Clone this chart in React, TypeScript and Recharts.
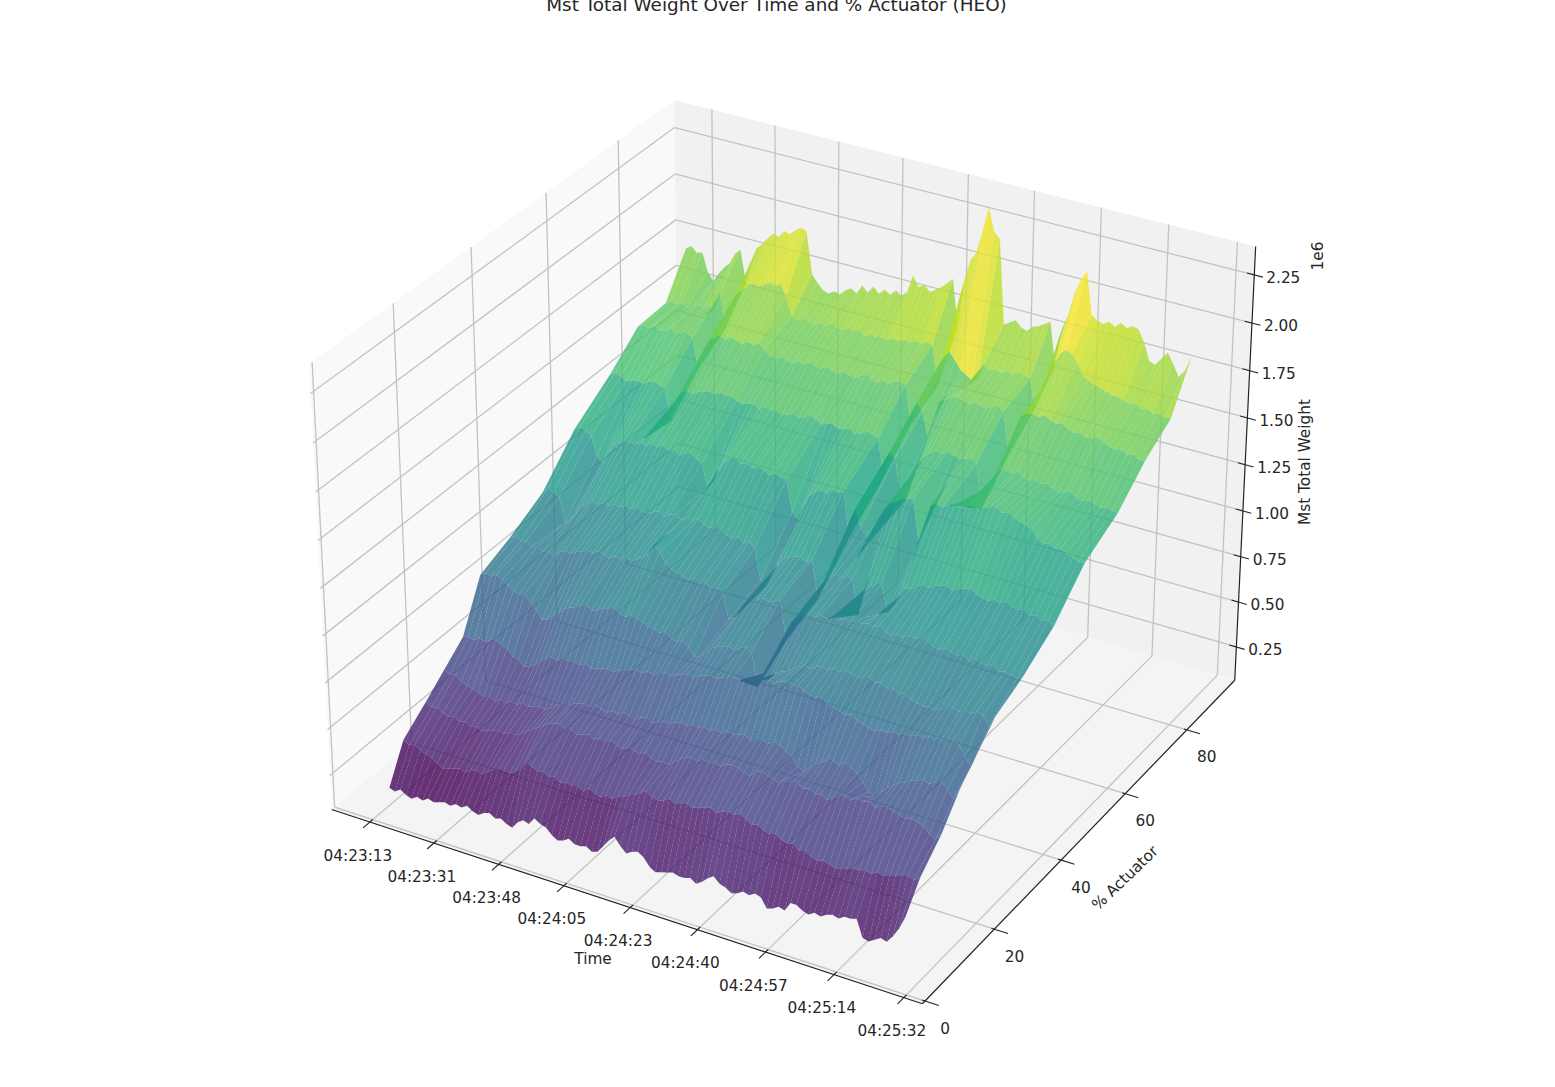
import { ScatterChart, Scatter, XAxis, YAxis } from 'recharts';

const WIDTH = 1555;
const HEIGHT = 1087;

const timeTickLabels = ['04:23:13', '04:23:31', '04:23:48', '04:24:05', '04:24:23', '04:24:40', '04:24:57', '04:25:14', '04:25:32'];
const timeTickSeconds = [0, 17.4, 34.8, 52.1, 69.5, 86.9, 104.3, 121.6, 139];
const actuatorTicks = [0, 20, 40, 60, 80];
const weightTicks = [25, 50, 75, 100, 125, 150, 175, 200, 225]; // units of 1e4

// seconds after 04:23:13
const sampleSeconds = [
  5, 6.5, 8, 9.5, 11, 12.5, 14, 15.5, 17, 18.5, 20, 21.5, 23, 24.5, 26, 27.5, 29, 30.5, 32, 33.5,
  35, 36.5, 38, 39.5, 41, 42.5, 44, 45.5, 47, 48.5, 50, 51.5, 53, 54.5, 56, 57.5, 59, 60.5, 62, 63.5,
  65, 66.5, 68, 69.5, 71, 72.5, 74, 75.5, 77, 78.5, 80, 81.5, 83, 84.5, 86, 87.5, 89, 90.5, 92, 93.5,
  95, 96.5, 98, 99.5, 101, 102.5, 104, 105.5, 107, 108.5, 110, 111.5, 113, 114.5, 116, 117.5, 119, 120.5, 122, 123.5,
  125, 126.5, 128, 129.5, 131, 132.5, 134, 135.5, 137, 138.5,
];
const actuatorLevels = [0, 4, 10, 15, 20, 25, 33, 42, 51, 61, 69, 77, 83];

// Mst Total Weight per actuator level, units of 1e4
const weightAt0 = [
  27, 26, 28, 26, 25, 27, 26, 28, 27, 28, 29, 28, 30, 29, 31, 29, 28, 30, 31, 29,
  30, 28, 27, 31, 33, 32, 36, 34, 33, 30, 28, 29, 31, 29, 29, 30, 28, 29, 33, 37,
  40, 36, 33, 35, 36, 34, 30, 28, 29, 30, 31, 30, 30, 31, 29, 31, 34, 36, 33, 32,
  30, 31, 33, 32, 34, 33, 28, 29, 31, 30, 35, 35, 33, 32, 34, 33, 35, 36, 35, 37,
  37, 38, 29, 28, 30, 32, 31, 35, 40, 47,
];
const weightAt4 = [
  46, 44, 45, 43, 42, 41, 39, 37, 38, 39, 40, 39, 41, 42, 41, 43, 45, 46, 47, 46,
  48, 50, 55, 54, 52, 53, 51, 52, 50, 51, 50, 51, 49, 52, 50, 49, 51, 50, 52, 53,
  55, 56, 58, 60, 58, 57, 58, 60, 58, 59, 60, 59, 60, 61, 62, 60, 62, 63, 62, 64,
  62, 60, 61, 59, 58, 59, 57, 56, 57, 54, 55, 53, 52, 53, 52, 51, 52, 53, 54, 54,
  55, 54, 56, 55, 56, 57, 58, 59, 58, 60,
];
const weightAt10 = [
  56, 54, 55, 53, 52, 53, 51, 52, 50, 51, 50, 51, 52, 53, 52, 54, 53, 55, 57, 59,
  61, 63, 65, 66, 67, 65, 66, 64, 65, 66, 64, 66, 65, 67, 65, 64, 66, 65, 64, 66,
  64, 63, 64, 63, 66, 68, 70, 71, 70, 72, 71, 72, 71, 73, 74, 73, 72, 71, 74, 75,
  74, 73, 72, 75, 74, 75, 73, 74, 72, 73, 71, 73, 75, 76, 75, 77, 76, 77, 75, 76,
  77, 76, 75, 74, 75, 74, 73, 70, 68, 72,
];
const weightAt15 = [
  65, 63, 64, 61, 60, 59, 58, 57, 58, 56, 58, 57, 59, 58, 60, 59, 60, 61, 60, 62,
  64, 66, 65, 68, 69, 70, 69, 71, 70, 69, 71, 70, 72, 71, 70, 72, 73, 71, 72, 74,
  73, 75, 76, 75, 77, 76, 78, 76, 78, 77, 79, 78, 79, 80, 78, 79, 80, 79, 81, 80,
  78, 76, 72, 70, 73, 76, 78, 80, 81, 79, 82, 80, 78, 74, 70, 69, 72, 75, 77, 80,
  81, 83, 84, 85, 84, 86, 87, 84, 80, 86,
];
const weightAt20 = [
  74, 75, 74, 76, 75, 77, 78, 76, 75, 72, 71, 68, 69, 71, 74, 76, 78, 77, 79, 78,
  79, 78, 80, 78, 79, 80, 81, 80, 82, 83, 84, 85, 84, 86, 85, 87, 88, 87, 89, 90,
  91, 90, 92, 93, 94, 93, 95, 96, 97, 96, 98, 97, 99, 100, 101, 100, 102, 103, 102, 103,
  101, 100, 99, 101, 98, 97, 96, 95, 96, 94, 93, 92, 91, 93, 92, 94, 93, 95, 94, 96,
  95, 97, 96, 97, 98, 99, 97, 92, 88, 96,
];
const weightAt25 = [
  99, 101, 100, 102, 100, 98, 96, 95, 96, 92, 89, 85, 86, 89, 91, 94, 96, 97, 99, 100,
  98, 99, 101, 102, 103, 101, 100, 102, 101, 100, 99, 98, 97, 99, 96, 95, 97, 94, 90, 91,
  94, 97, 99, 100, 101, 100, 102, 103, 101, 84, 92, 90, 94, 96, 97, 99, 101, 103, 102, 104,
  105, 104, 106, 105, 107, 106, 105, 106, 107, 105, 106, 104, 105, 103, 104, 102, 101, 100, 101, 100,
  102, 103, 104, 103, 105, 104, 106, 105, 100, 106,
];
const weightAt33 = [
  106, 108, 106, 107, 105, 106, 104, 105, 103, 106, 108, 107, 109, 110, 112, 111, 113, 112, 111, 113,
  112, 114, 113, 115, 117, 120, 125, 122, 117, 115, 114, 113, 112, 114, 112, 113, 111, 112, 110, 97,
  99, 104, 109, 111, 112, 114, 113, 114, 116, 95, 106, 109, 111, 113, 112, 114, 113, 115, 114, 116,
  115, 117, 116, 117, 116, 118, 115, 114, 116, 115, 117, 116, 118, 117, 115, 114, 116, 115, 114, 115,
  113, 115, 114, 113, 115, 112, 113, 112, 111, 113,
];
const weightAt42 = [
  116, 119, 118, 116, 103, 106, 110, 114, 116, 119, 118, 120, 119, 121, 120, 122, 121, 123, 122, 121,
  123, 124, 122, 124, 125, 123, 125, 124, 126, 124, 123, 125, 124, 122, 121, 123, 120, 122, 119, 103,
  101, 108, 114, 118, 120, 121, 122, 120, 122, 102, 112, 115, 118, 117, 119, 118, 100, 114, 117, 119,
  120, 106, 110, 116, 121, 122, 124, 126, 125, 127, 128, 129, 127, 129, 130, 131, 129, 128, 127, 129,
  128, 130, 128, 127, 128, 126, 127, 125, 126, 124,
];
const weightAt51 = [
  136, 138, 137, 135, 125, 122, 128, 132, 135, 137, 138, 137, 139, 138, 140, 139, 141, 139, 140, 138,
  140, 141, 139, 137, 125, 129, 136, 141, 144, 145, 143, 144, 142, 144, 143, 141, 143, 142, 141, 125,
  122, 130, 136, 139, 141, 140, 143, 142, 144, 120, 136, 127, 124, 123, 134, 140, 144, 146, 148, 149,
  150, 128, 136, 149, 151, 150, 152, 153, 152, 154, 155, 154, 156, 157, 158, 156, 157, 155, 154, 153,
  152, 148, 146, 147, 145, 146, 144, 143, 142, 142,
];
const weightAt61 = [
  150, 152, 151, 149, 150, 151, 150, 152, 153, 152, 151, 134, 146, 151, 153, 152, 154, 155, 156, 155,
  157, 156, 157, 155, 154, 155, 156, 154, 156, 155, 156, 154, 155, 157, 155, 156, 158, 157, 155, 156,
  157, 155, 156, 157, 155, 156, 158, 157, 156, 136, 150, 148, 130, 128, 140, 147, 153, 156, 158, 157,
  159, 158, 157, 158, 159, 157, 134, 146, 152, 157, 158, 157, 159, 157, 156, 157, 156, 157, 155, 154,
  155, 156, 154, 153, 154, 153, 152, 153, 152, 152,
];
const weightAt69 = [
  164, 166, 165, 167, 165, 166, 168, 166, 167, 168, 166, 150, 160, 167, 169, 171, 170, 172, 171, 170,
  172, 171, 173, 170, 168, 167, 169, 168, 167, 169, 168, 170, 169, 168, 170, 169, 168, 170, 169, 168,
  170, 172, 170, 169, 171, 170, 172, 173, 172, 152, 164, 160, 148, 158, 168, 170, 172, 173, 172, 171,
  173, 172, 171, 173, 174, 172, 150, 160, 172, 174, 175, 174, 176, 174, 173, 174, 172, 171, 172, 170,
  171, 172, 170, 169, 168, 169, 167, 168, 166, 166,
];
const weightAt77 = [
  165, 167, 166, 168, 166, 167, 169, 168, 170, 169, 178, 160, 172, 180, 183, 186, 188, 187, 189, 191,
  190, 192, 186, 176, 175, 177, 176, 175, 177, 176, 178, 177, 176, 178, 177, 179, 176, 178, 177, 178,
  177, 179, 178, 180, 179, 181, 180, 182, 181, 160, 176, 180, 176, 172, 170, 168, 170, 178, 176, 177,
  176, 178, 177, 179, 178, 177, 162, 170, 178, 188, 194, 197, 196, 192, 186, 184, 183, 182, 181, 180,
  180, 179, 178, 179, 177, 178, 176, 177, 176, 176,
];
const weightAt83 = [
  186, 188, 185, 186, 176, 172, 177, 181, 184, 190, 193, 176, 188, 196, 199, 203, 206, 205, 209, 208,
  211, 213, 212, 190, 186, 183, 182, 184, 183, 186, 188, 186, 191, 188, 192, 189, 192, 190, 193, 191,
  194, 203, 198, 200, 197, 199, 201, 204, 207, 182, 208, 219, 224, 236, 249, 237, 234, 190, 192, 194,
  191, 190, 193, 194, 196, 198, 176, 196, 204, 216, 224, 229, 207, 205, 204, 206, 204, 207, 205, 207,
  206, 200, 191, 190, 194, 198, 193, 187, 191, 199,
];
const weightRows = [
  weightAt0, weightAt4, weightAt10, weightAt15, weightAt20, weightAt25, weightAt33,
  weightAt42, weightAt51, weightAt61, weightAt69, weightAt77, weightAt83,
];

// axis limits of the 3d box
const TIME_MIN = -10.5;
const TIME_MAX = 143.6;
const ACT_MIN = -0.736;
const ACT_MAX = 96.07;
const WEIGHT_MIN = 6.35;
const WEIGHT_MAX = 239.7;

const fx = (t: number) => (t - TIME_MIN) / (TIME_MAX - TIME_MIN);
const fy = (a: number) => (a - ACT_MIN) / (ACT_MAX - ACT_MIN);
const fz = (w: number) => (w - WEIGHT_MIN) / (WEIGHT_MAX - WEIGHT_MIN);

// same camera as a matplotlib 3d axes, elev 30 azim -60 dist 10
function project(bx: number, by: number, bz: number) {
  const dx = (bx - 0.5) * 1.2549;
  const dy = (by - 0.5) * 1.2549;
  const dz = (bz - 0.5) * 0.9412;
  const xv = 0.866 * dx + 0.5 * dy;
  const yv = -0.25 * dx + 0.433 * dy + 0.866 * dz;
  const nv = 0.433 * dx - 0.75 * dy + 0.5 * dz;
  const w = 10 - nv;
  return { x: 792 + (5390 * xv) / w, y: 529 - (5390 * yv) / w, depth: w };
}

const viridis = ['#440154', '#482475', '#414487', '#355f8d', '#2a788e', '#21918c', '#22a884', '#44bf70', '#7ad151', '#bddf26', '#fde725'];
function viridisAt(v: number) {
  const p = Math.min(Math.max(v, 0), 1) * 10;
  const i = Math.min(Math.floor(p), 9);
  const f = p - i;
  const c = (hex: string, k: number) => parseInt(hex.slice(k, k + 2), 16);
  const mix = (k: number) => Math.round(c(viridis[i], k) + (c(viridis[i + 1], k) - c(viridis[i], k)) * f);
  return `rgb(${mix(1)},${mix(3)},${mix(5)})`;
}

type Pt = { x: number; y: number };

function polygonDatum(corners: Pt[], fill: string, opacity: number, depth = 0) {
  const x = corners.reduce((s, c) => s + c.x, 0) / corners.length;
  const y = corners.reduce((s, c) => s + c.y, 0) / corners.length;
  return { x, y, fill, opacity, depth, offsets: corners.map((c) => [c.x - x, c.y - y]) };
}

function lineDatum(a: Pt, b: Pt, stroke: string, width: number) {
  return { x: a.x, y: a.y, dx: b.x - a.x, dy: b.y - a.y, stroke, width };
}

function buildFacets() {
  const raw: { corners: Pt[]; mean: number; depth: number }[] = [];
  for (let r = 0; r < actuatorLevels.length - 1; r++) {
    for (let c = 0; c < sampleSeconds.length - 1; c++) {
      const ids: [number, number][] = [[r, c], [r, c + 1], [r + 1, c + 1], [r + 1, c]];
      const pts = ids.map(([i, j]) => project(fx(sampleSeconds[j]), fy(actuatorLevels[i]), fz(weightRows[i][j])));
      const mean = ids.reduce((s, [i, j]) => s + weightRows[i][j], 0) / 4;
      raw.push({ corners: pts, mean, depth: pts.reduce((s, p) => s + p.depth, 0) / 4 });
    }
  }
  const lo = Math.min(...raw.map((f) => f.mean));
  const hi = Math.max(...raw.map((f) => f.mean));
  return raw
    .sort((a, b) => b.depth - a.depth)
    .map((f) => polygonDatum(f.corners, viridisAt((f.mean - lo) / (hi - lo)), 0.8, f.depth));
}

const facets = buildFacets();

const panes = [
  polygonDatum([project(0, 0, 0), project(0, 1, 0), project(0, 1, 1), project(0, 0, 1)], '#f9f9f9', 1),
  polygonDatum([project(0, 1, 0), project(1, 1, 0), project(1, 1, 1), project(0, 1, 1)], '#f1f1f1', 1),
  polygonDatum([project(0, 0, 0), project(1, 0, 0), project(1, 1, 0), project(0, 1, 0)], '#f4f4f4', 1),
];

const GRID = '#c2c2c2';
const gridLines = [
  ...timeTickSeconds.flatMap((t) => [
    lineDatum(project(fx(t), 0, 0), project(fx(t), 1, 0), GRID, 1.3),
    lineDatum(project(fx(t), 1, 0), project(fx(t), 1, 1), GRID, 1.3),
  ]),
  ...actuatorTicks.flatMap((a) => [
    lineDatum(project(0, fy(a), 0), project(1, fy(a), 0), GRID, 1.3),
    lineDatum(project(0, fy(a), 0), project(0, fy(a), 1), GRID, 1.3),
  ]),
  ...weightTicks.flatMap((w) => [
    lineDatum(project(0, 0, fz(w)), project(0, 1, fz(w)), GRID, 1.3),
    lineDatum(project(0, 1, fz(w)), project(1, 1, fz(w)), GRID, 1.3),
  ]),
];

const AXIS = '#222222';
const axisLines = [
  lineDatum(project(0, 0, 0), project(1, 0, 0), AXIS, 1.2),
  lineDatum(project(1, 0, 0), project(1, 1, 0), AXIS, 1.2),
  lineDatum(project(1, 1, 0), project(1, 1, 1), AXIS, 1.2),
  ...timeTickSeconds.map((t) => lineDatum(project(fx(t), -0.018, 0), project(fx(t), 0.008, 0), AXIS, 1.1)),
  ...actuatorTicks.map((a) => lineDatum(project(0.995, fy(a), 0), project(1.022, fy(a), 0), AXIS, 1.1)),
  ...weightTicks.map((w) => lineDatum(project(0.988, 1, fz(w)), project(1.014, 1, fz(w)), AXIS, 1.1)),
];

function textDatum(p: Pt, text: string, extra: Record<string, unknown> = {}) {
  return { x: p.x, y: p.y, text, anchor: 'middle', size: 15.3, rotate: 0, ...extra };
}

const texts = [
  textDatum({ x: 776.5, y: 4 }, 'Mst Total Weight Over Time and % Actuator (HEO)', { size: 18.4 }),
  ...timeTickSeconds.map((t, i) => {
    const p = project(fx(t), 0, 0);
    return textDatum({ x: p.x - 12, y: p.y + 33.5 }, timeTickLabels[i]);
  }),
  ...actuatorTicks.map((a) => {
    const p = project(1, fy(a), 0);
    return textDatum({ x: p.x + 20, y: p.y + 27.5 }, String(a));
  }),
  ...weightTicks.map((w) => {
    const p = project(1, 1, fz(w));
    return textDatum({ x: p.x + 12, y: p.y + 3 }, (w / 100).toFixed(2), { anchor: 'start' });
  }),
  textDatum({ x: 593, y: 959 }, 'Time'),
  textDatum({ x: 1125, y: 878 }, '% Actuator', { rotate: -44 }),
  textDatum({ x: 1305, y: 462 }, 'Mst Total Weight', { rotate: -90 }),
  textDatum({ x: 1318, y: 256 }, '1e6', { rotate: -90 }),
];

const PolygonShape = (props: any) => {
  const { cx, cy, payload } = props;
  const points = payload.offsets.map(([dx, dy]: number[]) => `${cx + dx},${cy + dy}`).join(' ');
  return <polygon points={points} fill={payload.fill} fillOpacity={payload.opacity} stroke="none" />;
};

const LineShape = (props: any) => {
  const { cx, cy, payload } = props;
  return <line x1={cx} y1={cy} x2={cx + payload.dx} y2={cy + payload.dy} stroke={payload.stroke} strokeWidth={payload.width} />;
};

const TextShape = (props: any) => {
  const { cx, cy, payload } = props;
  return (
    <text
      x={cx}
      y={cy}
      fill="#262626"
      fontFamily="DejaVu Sans"
      fontSize={payload.size}
      textAnchor={payload.anchor}
      dominantBaseline="central"
      transform={payload.rotate ? `rotate(${payload.rotate} ${cx} ${cy})` : undefined}
    >
      {payload.text}
    </text>
  );
};

export default function App() {
  return (
    <div style={{ position: 'absolute', left: 0, top: 0, width: WIDTH, height: HEIGHT, background: '#fff', overflow: 'hidden' }}>
      <ScatterChart width={WIDTH} height={HEIGHT} margin={{ top: 0, right: 0, bottom: 0, left: 0 }}>
        <XAxis type="number" dataKey="x" domain={[0, WIDTH]} hide allowDataOverflow />
        <YAxis type="number" dataKey="y" domain={[0, HEIGHT]} reversed hide allowDataOverflow />
        <Scatter data={panes} shape={PolygonShape} isAnimationActive={false} />
        <Scatter data={gridLines} shape={LineShape} isAnimationActive={false} />
        <Scatter data={axisLines} shape={LineShape} isAnimationActive={false} />
        <Scatter data={facets} shape={PolygonShape} isAnimationActive={false} />
        <Scatter data={texts} shape={TextShape} isAnimationActive={false} />
      </ScatterChart>
    </div>
  );
}
